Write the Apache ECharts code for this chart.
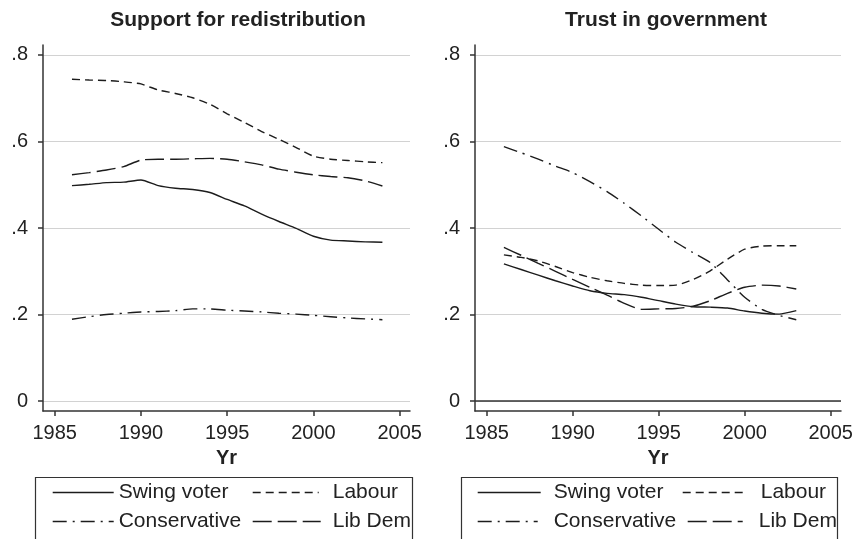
<!DOCTYPE html>
<html>
<head>
<meta charset="utf-8">
<script src="https://cdn.jsdelivr.net/npm/echarts@6/dist/echarts.min.js"></script>
<style>
  html, body { margin: 0; padding: 0; background: #ffffff; }
  #chart { width: 858px; height: 539px; }
</style>
</head>
<body>
<div id="chart"></div>
<script>
// Survey years for each panel
const yearsRedist = [1986, 1987, 1988, 1989, 1990, 1991, 1992, 1993, 1994, 1995,
                     1996, 1997, 1998, 1999, 2000, 2001, 2002, 2003, 2004];
const yearsTrust  = [1986, 1987, 1988, 1989, 1990, 1991, 1992, 1993, 1994, 1995,
                     1996, 1997, 1998, 1999, 2000, 2001, 2002, 2003];

// Support for redistribution (smoothed shares)
const redistSwing  = [0.498, 0.501, 0.505, 0.506, 0.511, 0.498, 0.492, 0.489, 0.482, 0.466,
                      0.451, 0.432, 0.415, 0.399, 0.381, 0.372, 0.370, 0.368, 0.367];
const redistLabour = [0.744, 0.742, 0.741, 0.738, 0.733, 0.719, 0.711, 0.701, 0.686, 0.664,
                      0.644, 0.623, 0.605, 0.586, 0.566, 0.559, 0.556, 0.553, 0.551];
const redistCons   = [0.189, 0.195, 0.200, 0.203, 0.206, 0.207, 0.209, 0.213, 0.213, 0.210,
                      0.208, 0.206, 0.203, 0.201, 0.198, 0.195, 0.192, 0.190, 0.188];
const redistLibDem = [0.523, 0.528, 0.534, 0.542, 0.557, 0.559, 0.559, 0.560, 0.561, 0.559,
                      0.553, 0.546, 0.536, 0.529, 0.523, 0.519, 0.516, 0.509, 0.497];

// Trust in government (smoothed shares)
const trustSwing  = [0.317, 0.304, 0.291, 0.278, 0.266, 0.255, 0.249, 0.246, 0.240, 0.232,
                     0.224, 0.218, 0.217, 0.215, 0.208, 0.203, 0.201, 0.209];
const trustLabour = [0.338, 0.332, 0.324, 0.311, 0.297, 0.286, 0.278, 0.272, 0.268, 0.267,
                     0.268, 0.281, 0.301, 0.328, 0.351, 0.358, 0.359, 0.359];
const trustCons   = [0.588, 0.574, 0.559, 0.543, 0.528, 0.507, 0.484, 0.457, 0.428, 0.397,
                     0.367, 0.343, 0.320, 0.280, 0.240, 0.212, 0.198, 0.188];
const trustLibDem = [0.355, 0.337, 0.318, 0.300, 0.281, 0.263, 0.245, 0.226, 0.212, 0.213,
                     0.214, 0.219, 0.232, 0.249, 0.263, 0.268, 0.266, 0.259];

// Axis ticks and labels
const xTicks = [1985, 1990, 1995, 2000, 2005];
const yTicks = [0, 0.2, 0.4, 0.6, 0.8];
const yTickLabels = ['0', '.2', '.4', '.6', '.8'];

const panelTitles = ['Support for redistribution', 'Trust in government'];
const seriesNames = ['Swing voter', 'Labour', 'Conservative', 'Lib Dem'];

const FONT = '"Liberation Sans", Arial, Helvetica, sans-serif';
const INK = '#1c1c1c';
const AXIS = '#333333';

const dashes = {
  'Swing voter': 'solid',
  'Labour': [8, 5],
  'Conservative': [14, 6, 2, 6],
  'Lib Dem': [19, 6]
};

function pairs(years, values) {
  return years.map((y, i) => [y, values[i]]);
}

function lineSeries(name, years, values, panel) {
  return {
    type: 'line',
    name: name,
    xAxisIndex: panel,
    yAxisIndex: panel,
    data: pairs(years, values),
    symbol: 'none',
    smooth: 0.2,
    silent: true,
    lineStyle: { color: INK, width: 1.4, type: dashes[name], cap: 'butt' },
    itemStyle: { color: INK },
    emphasis: { disabled: true }
  };
}

function xAxis(panel) {
  return {
    gridIndex: panel,
    type: 'value',
    min: 1984.32,
    max: 2005.6,
    axisLine: { show: true, onZero: false, lineStyle: { color: AXIS, width: 1.5 } },
    axisTick: { show: true, length: 5, customValues: xTicks, lineStyle: { color: AXIS, width: 1.5 } },
    axisLabel: {
      customValues: xTicks,
      fontSize: 20,
      color: '#222',
      margin: 12,
      fontFamily: FONT,
      formatter: function (v) { return String(Math.round(v)); }
    },
    splitLine: { show: false },
    name: 'Yr',
    nameLocation: 'middle',
    nameGap: 37,
    nameTextStyle: { fontSize: 20, fontWeight: 'bold', color: '#222', fontFamily: FONT }
  };
}

function yAxis(panel) {
  return {
    gridIndex: panel,
    type: 'value',
    min: -0.023,
    max: 0.823,
    axisLine: { show: true, onZero: false, lineStyle: { color: AXIS, width: 1.5 } },
    axisTick: { show: true, length: 5, customValues: yTicks, lineStyle: { color: AXIS, width: 1.5 } },
    axisLabel: {
      customValues: yTicks,
      fontSize: 20,
      color: '#222',
      margin: 15,
      fontFamily: FONT,
      formatter: function (v) {
        const i = yTicks.findIndex(t => Math.abs(t - v) < 1e-9);
        return i >= 0 ? yTickLabels[i] : String(v).replace(/^0\./, '.');
      }
    },
    splitLine: { show: true, lineStyle: { color: '#d2d2d2', width: 1 } }
  };
}

function legendItem(name, left, top, width, gap) {
  return {
    data: [name],
    left: left,
    top: top,
    orient: 'horizontal',
    padding: 0,
    itemGap: 0,
    itemWidth: width,
    itemHeight: 22,
    selectedMode: false,
    itemStyle: { color: 'rgba(0,0,0,0)', borderColor: 'rgba(0,0,0,0)', borderWidth: 0, opacity: 0 },
    lineStyle: { width: 1.4, color: INK },
    textStyle: { fontSize: 21, color: '#222', fontFamily: FONT, padding: [0, 0, 0, gap] }
  };
}

const series = [
  lineSeries('Swing voter', yearsRedist, redistSwing, 0),
  lineSeries('Labour', yearsRedist, redistLabour, 0),
  lineSeries('Conservative', yearsRedist, redistCons, 0),
  lineSeries('Lib Dem', yearsRedist, redistLibDem, 0),
  Object.assign(lineSeries('Swing voter', yearsTrust, trustSwing, 1), {
    markLine: {
      silent: true,
      symbol: 'none',
      label: { show: false },
      lineStyle: { color: AXIS, type: 'solid', width: 1.5 },
      data: [{ yAxis: 0 }]
    }
  }),
  lineSeries('Labour', yearsTrust, trustLabour, 1),
  lineSeries('Conservative', yearsTrust, trustCons, 1),
  lineSeries('Lib Dem', yearsTrust, trustLibDem, 1)
];

const chart = echarts.init(document.getElementById('chart'), null, { renderer: 'canvas' });

chart.setOption({
  animation: false,
  backgroundColor: '#ffffff',
  textStyle: { fontFamily: FONT },
  title: [
    { text: panelTitles[0], left: 233, top: 5, textAlign: 'center',
      textStyle: { fontSize: 21, fontWeight: 'bold', color: '#222', fontFamily: FONT } },
    { text: panelTitles[1], left: 661, top: 5, textAlign: 'center',
      textStyle: { fontSize: 21, fontWeight: 'bold', color: '#222', fontFamily: FONT } }
  ],
  grid: [
    { left: 43, top: 45, width: 367, height: 366 },
    { left: 475, top: 45, width: 366, height: 366 }
  ],
  xAxis: [xAxis(0), xAxis(1)],
  yAxis: [yAxis(0), yAxis(1)],
  legend: [
    legendItem(seriesNames[0], 52, 482, 61, 0),
    legendItem(seriesNames[1], 252, 482, 66, 9),
    legendItem(seriesNames[2], 52, 511, 61, 0),
    legendItem(seriesNames[3], 252, 511, 68, 7),
    legendItem(seriesNames[0], 477, 482, 63, 8),
    legendItem(seriesNames[1], 682, 482, 60, 13),
    legendItem(seriesNames[2], 477, 511, 60, 11),
    legendItem(seriesNames[3], 687, 511, 55, 11)
  ],
  graphic: [
    { type: 'rect', silent: true, shape: { x: 35.5, y: 477.5, width: 377, height: 80 },
      style: { fill: 'none', stroke: AXIS, lineWidth: 1.2 } },
    { type: 'rect', silent: true, shape: { x: 461.5, y: 477.5, width: 376, height: 80 },
      style: { fill: 'none', stroke: AXIS, lineWidth: 1.2 } }
  ],
  series: series
});
</script>
</body>
</html>
